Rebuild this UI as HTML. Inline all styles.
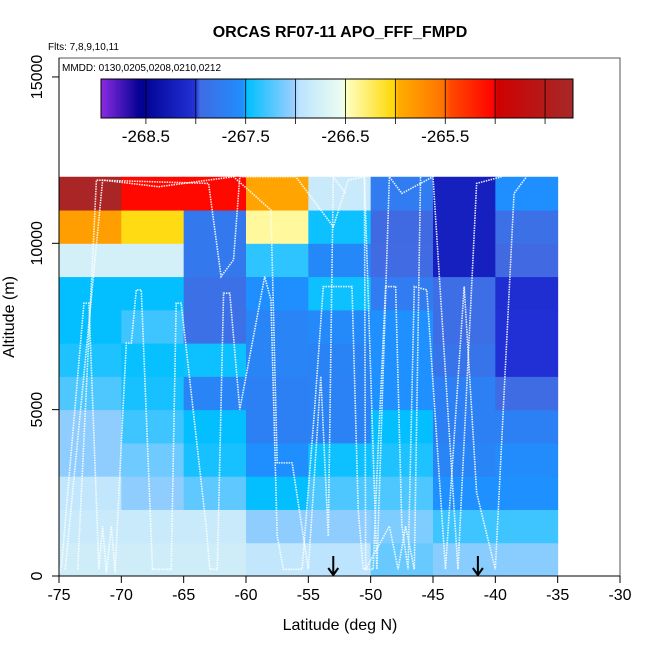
<!DOCTYPE html>
<html><head><meta charset="utf-8"><style>
html,body{margin:0;padding:0;background:#fff;}
svg text{font-family:"Liberation Sans",sans-serif;}
</style></head><body>
<svg id="chart" width="650" height="650" viewBox="0 0 650 650" xmlns="http://www.w3.org/2000/svg">
<text x="340" y="37" text-anchor="middle" font-size="16" font-weight="bold">ORCAS RF07-11 APO_FFF_FMPD</text>
<text x="48" y="50" font-size="10">Flts: 7,8,9,10,11</text>
<g id="cells"></g>
<g id="tracks"></g>
<rect x="59" y="58" width="561" height="518" fill="none" stroke="#555" stroke-width="1"/>
<text x="62" y="71" font-size="10">MMDD: 0130,0205,0208,0210,0212</text>
<defs><linearGradient id="cb" x1="0" x2="1" y1="0" y2="0"></linearGradient></defs>
<g id="colorbar"></g>
<g id="axes"></g>
<text x="340" y="630" text-anchor="middle" font-size="16">Latitude (deg N)</text>
<text transform="translate(14,317) rotate(-90)" text-anchor="middle" font-size="16">Altitude (m)</text>
</svg>
<script>
const latBins=[-75,-70,-65,-60,-55,-50,-45,-40];
const altBins=[0,1000,2000,3000,4000,5000,6000,7000,8000,9000,10000,11000];
// values[row] row 0 = 0-1000 m
const values=[
[-266.8,-266.8,-266.8,-266.9,-266.95,-267.17,-267.07,-267.07],
[-266.85,-266.85,-266.85,-267.05,-267.05,-267.1,-267.3,-267.3],
[-266.9,-267.05,-267.2,-267.48,-267.25,-267.25,-267.5,-267.5],
[-267.05,-267.15,-267.42,-267.52,-267.45,-267.4,-267.65,-267.55],
[-267.05,-267.3,-267.48,-267.7,-267.68,-267.48,-267.7,-267.7],
[-267.25,-267.42,-267.65,-267.7,-267.68,-267.5,-267.7,-267.96],
[-267.4,-267.47,-267.45,-267.65,-267.66,-267.5,-267.85,-268.03],
[-267.48,-267.3,-267.9,-267.65,-267.58,-267.5,-267.93,-268.03],
[-267.48,-267.48,-267.9,-267.52,-267.45,-267.75,-267.93,-268.05],
[-266.75,-266.75,-267.8,-267.35,-267.6,-267.97,-268.2,-267.99],
[-265.85,-266.05,-267.8,-266.4,-267.45,-267.98,-268.2,-267.9],
[-264.3,-265.05,-265.05,-265.9,-266.85,-267.75,-268.2,-267.52]];
const cbTicks=[-268.5,-267.5,-266.5,-265.5];
const cbLines=[-268.5,-268,-267.5,-267,-266.5,-266,-265.5,-265,-264.5];
const xTicks=[-75,-70,-65,-60,-55,-50,-45,-40,-35,-30];
const yTicks=[0,5000,10000,15000];
const arrowLats=[-53,-41.4];
const tracks=[
[[-75,100],[-74.8,300],[-73,8200],[-72.6,8200],[-71.8,200],[-71.5,1500],[-71.2,100],[-70.8,1500],[-70.5,100],[-70,4000],[-69.6,7000],[-69.2,7000],[-68.8,8600],[-68.4,8600],[-67.5,200],[-66,200],[-65.6,8200],[-65.2,8200],[-63.2,1500],[-62.9,200],[-62.3,200],[-61.8,8500],[-61.3,8500],[-60.5,5000],[-58.5,9000],[-58,8300],[-57.5,1200],[-57,200],[-55.5,200],[-54.5,5000],[-53.8,8700],[-51.5,8700],[-51,2000],[-50.6,200],[-49.8,200],[-49.5,3000],[-48.8,8700],[-48,8700],[-47.5,1500],[-47,200],[-46.5,8700],[-45.5,8600],[-44,200],[-42.5,8700],[-41.5,2500],[-40,200],[-38.5,11500],[-37.5,12000]],
[[-74.5,200],[-71.5,11900],[-67,11700],[-61,12000],[-58,11000],[-57.5,3400],[-56.3,3400],[-55,200],[-54,6000],[-53.4,1200],[-53,12000],[-52,11500]],
[[-73.5,200],[-72,11900],[-63,11800],[-62,9000],[-61,9500],[-60.5,12000],[-56,12000],[-53,10500],[-51.8,11900],[-50.5,12000],[-49.5,200],[-48.5,12000],[-47.5,11500],[-45,12000],[-43,200],[-41.5,11800],[-39.5,12000]],
[[-50.5,12000],[-50.4,200],[-48.5,1500],[-47.8,200],[-47.2,1500],[-46.5,200],[-46,12000]]
];
const X=v=>59+(v+75)*561/45;
const Y=v=>576-v*0.03327;
const stops=[[-268.95,[138,43,226]],[-268.55,[0,0,144]],[-268.0,[34,51,216]],[-267.99,[65,105,225]],[-267.5,[30,144,255]],[-267.49,[0,191,255]],[-267.0,[160,207,255]],[-266.99,[184,226,255]],[-266.5,[240,255,240]],[-266.49,[255,255,192]],[-266.0,[255,215,0]],[-265.99,[255,176,0]],[-265.5,[255,112,0]],[-265.49,[255,80,0]],[-265.0,[255,0,0]],[-264.99,[208,0,0]],[-264.2,[165,42,42]]];
function col(v){
  if(v<=stops[0][0])return 'rgb('+stops[0][1]+')';
  for(let i=1;i<stops.length;i++){if(v<=stops[i][0]){const a=stops[i-1],b=stops[i];const t=(v-a[0])/(b[0]-a[0]);return 'rgb('+a[1].map((c,k)=>Math.round(c+(b[1][k]-c)*t)).join(',')+')';}}
  return 'rgb('+stops[stops.length-1][1]+')';
}
const NS='http://www.w3.org/2000/svg';
function mk(t,a,p){const e=document.createElementNS(NS,t);for(const k in a)e.setAttribute(k,a[k]);p.appendChild(e);return e;}
const cells=document.getElementById('cells');
values.forEach((row,r)=>row.forEach((v,c)=>{
  const x0=X(latBins[c]),x1=X(latBins[c]+5),y0=Y(altBins[r]+1000),y1=Y(altBins[r]);
  const e=mk('rect',{x:x0,y:y0,width:x1-x0+0.5,height:y1-y0+0.5,fill:col(v)},cells);
  
  
}));
const tg=document.getElementById('tracks');
tracks.forEach(tr=>{
  const e=mk('polyline',{points:tr.map(p=>X(p[0])+','+Y(p[1])).join(' '),fill:'none',stroke:'#fff','stroke-width':1.6,'stroke-dasharray':'1.5,1','stroke-opacity':0.9},tg);
  
  
});
const cbMin=-268.95,cbMax=-264.22,cbX0=101,cbX1=573;
const CX=v=>cbX0+(v-cbMin)*(cbX1-cbX0)/(cbMax-cbMin);
const grad=document.getElementById('cb');
for(let i=0;i<=100;i++){const v=cbMin+(cbMax-cbMin)*i/100;mk('stop',{offset:(i)+'%','stop-color':col(v)},grad);}
const cb=document.getElementById('colorbar');
const cbr=mk('rect',{x:cbX0,y:79,width:cbX1-cbX0,height:39,fill:'url(#cb)',stroke:'#000','stroke-width':1},cb);


cbLines.forEach(v=>{
  const l=mk('line',{x1:CX(v),x2:CX(v),y1:79,y2:124,stroke:'#000','stroke-width':0.8},cb);
  
  
});
cbTicks.forEach(v=>{
  const t=mk('text',{x:CX(v),y:142,'text-anchor':'middle','font-size':17},cb);t.textContent=v.toFixed(1);
  
  
});
const ax=document.getElementById('axes');
xTicks.forEach(v=>{
  const l=mk('line',{x1:X(v),x2:X(v),y1:576,y2:583,stroke:'#000'},ax);
  
  
  const t=mk('text',{x:X(v),y:600,'text-anchor':'middle','font-size':16},ax);t.textContent=v;
  
  
});
mk('line',{x1:59,x2:620,y1:576,y2:576,stroke:'#000'},ax);
yTicks.forEach(v=>{
  const l=mk('line',{x1:52,x2:59,y1:Y(v),y2:Y(v),stroke:'#000'},ax);
  
  
  const t=mk('text',{transform:'translate(42,'+Y(v)+') rotate(-90)','text-anchor':'middle','font-size':16},ax);t.textContent=v;
  
  
});
mk('line',{x1:59,x2:59,y1:58,y2:576,stroke:'#000'},ax);
arrowLats.forEach(v=>{
  const g=mk('g',{},ax);
  
  
  mk('line',{x1:X(v),x2:X(v),y1:556,y2:575,stroke:'#000','stroke-width':2},g);
  mk('polyline',{points:(X(v)-5)+',568 '+X(v)+',575 '+(X(v)+5)+',568',fill:'none',stroke:'#000','stroke-width':2},g);
});
</script>
</body></html>
